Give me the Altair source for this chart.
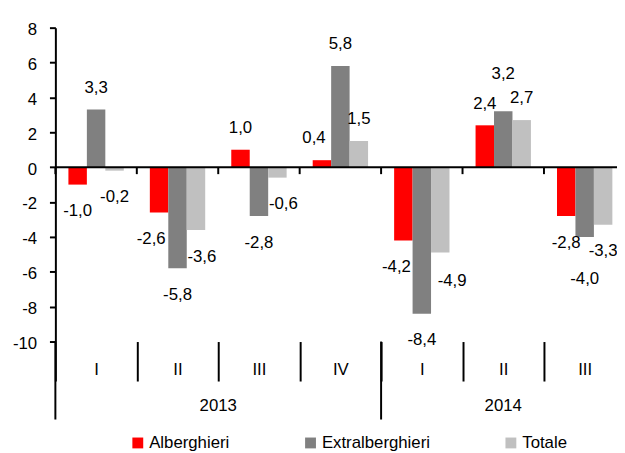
import altair as alt
import pandas as pd

# ---- data ----
years = ["2013", "2013", "2013", "2013", "2014", "2014", "2014"]
quarters = ["I", "II", "III", "IV", "I", "II", "III"]
series = ["Alberghieri", "Extralberghieri", "Totale"]
alberghieri = [-1.0, -2.6, 1.0, 0.4, -4.2, 2.4, -2.8]
extralberghieri = [3.3, -5.8, -2.8, 5.8, -8.4, 3.2, -4.0]
totale = [-0.2, -3.6, -0.6, 1.5, -4.9, 2.7, -3.3]
y_ticks = [-10, -8, -6, -4, -2, 0, 2, 4, 6, 8]
colors = ["#FF0000", "#808080", "#C0C0C0"]

# label placement nudges in px (dx, dy), keyed by (period index, series)
label_nudge = {
    (1, "Alberghieri"): (-8, 0),
    (1, "Totale"): (6, 0),
    (2, "Totale"): (6, 0),
    (3, "Alberghieri"): (-8, 0),
    (4, "Alberghieri"): (-7, 0),
    (4, "Totale"): (12, 2),
    (5, "Extralberghieri"): (0, -16),
    (6, "Extralberghieri"): (0, 16),
}

FONT = "Liberation Sans"
BAND = 82.5
PLOT_W = 569
PLOT_H = 318

keys = [f"{y} {q}" for y, q in zip(years, quarters)]
values = {"Alberghieri": alberghieri, "Extralberghieri": extralberghieri, "Totale": totale}

rows = []
for i, k in enumerate(keys):
    for s in series:
        v = values[s][i]
        dx, dy = label_nudge.get((i, s), (0, 0))
        rows.append({
            "key": k, "series": s, "value": v,
            "label": f"{v:.1f}".replace(".", ","),
            "dx": dx, "dy": dy + (-22 if v >= 0 else 27),
        })
df = pd.DataFrame(rows)

year_names = list(dict.fromkeys(years))
starts = [years.index(y) for y in year_names]
counts = [years.count(y) for y in year_names]
year_df = pd.DataFrame({
    "year": year_names,
    "n": counts,
    "key": [keys[s] for s in starts],
})

x_scale = alt.Scale(domain=keys, paddingInner=0, paddingOuter=0, range=[0, BAND * len(keys)])
y_scale = alt.Scale(domain=[-10, 8], nice=False)

x_axis = alt.Axis(labelExpr="split(datum.value, ' ')[1]", domain=False, title=None,
                  ticks=True, tickBand="extent", tickSize=40, tickWidth=2,
                  tickColor="black", labelFontSize=17, labelFont=FONT,
                  labelColor="black", labelBaseline="middle", labelPadding=-12,
                  labelAngle=0, grid=False)
y_axis = alt.Axis(values=y_ticks, labelExpr="'' + datum.value", domain=True, title=None,
                  domainColor="black", domainWidth=2, ticks=True, tickSize=6,
                  tickWidth=2, tickColor="black", grid=False, labelFontSize=17,
                  labelFont=FONT, labelColor="black", labelPadding=13, labelOffset=2)

X = alt.X("key:N", scale=x_scale, sort=keys, title=None, axis=x_axis)
X0 = alt.X("key:N", scale=x_scale, sort=keys, title=None, axis=x_axis, bandPosition=0)
Y = alt.Y("value:Q", scale=y_scale, title=None, axis=y_axis)
xo = alt.XOffset("series:N", sort=series,
                 scale=alt.Scale(domain=series, paddingInner=0, paddingOuter=0.706))

bars = alt.Chart(df).mark_bar().encode(
    x=X, xOffset=xo, y=Y,
    color=alt.Color("series:N", sort=series,
                    scale=alt.Scale(domain=series, range=colors),
                    legend=alt.Legend(title=None, orient="none", legendX=75, legendY=412,
                                      direction="horizontal", columns=3, columnPadding=73,
                                      symbolType="square", symbolSize=121,
                                      symbolStrokeWidth=0, labelFontSize=17,
                                      labelFont=FONT, labelColor="black", padding=0,
                                      labelOffset=3)),
)

labels = alt.Chart(df).mark_text(
    font=FONT, fontSize=17, baseline="middle", color="black",
    dx=alt.ExprRef(expr="datum.dx"), dy=alt.ExprRef(expr="datum.dy"),
).encode(x=X, xOffset=xo, y=Y, text="label:N")

zero_line = alt.Chart(pd.DataFrame({"value": [0]})).mark_rule(
    color="black", strokeWidth=2
).encode(y=Y)

zero_ticks = alt.Chart(pd.DataFrame({"key": keys, "value": [0] * len(keys)})).mark_rule(
    color="black", strokeWidth=2
).encode(
    x=X0,
    y=Y,
    y2=alt.datum(-0.4),
)

year_sep = alt.Chart(year_df).mark_rule(color="black", strokeWidth=2).encode(
    x=X0,
    y=alt.value(PLOT_H),
    y2=alt.value(PLOT_H + 79),
)

year_text = alt.Chart(year_df).mark_text(
    font=FONT, fontSize=17, baseline="middle", align="center", color="black",
    dx=alt.ExprRef(expr="datum.n * bandwidth('x') / 2"),
).encode(
    x=X0,
    y=alt.value(PLOT_H + 65),
    text="year:N",
)

chart = (
    alt.layer(bars, zero_line, zero_ticks, year_sep, labels, year_text)
    .properties(
        width=PLOT_W, height=PLOT_H,
        autosize=alt.AutoSizeParams(type="none"),
        padding={"left": 48, "top": 17, "right": 0, "bottom": 110},
    )
    .configure(font=FONT)
    .configure_view(stroke=None)
)

chart.save("out.html", embed_options={"renderer": "svg", "actions": False})
